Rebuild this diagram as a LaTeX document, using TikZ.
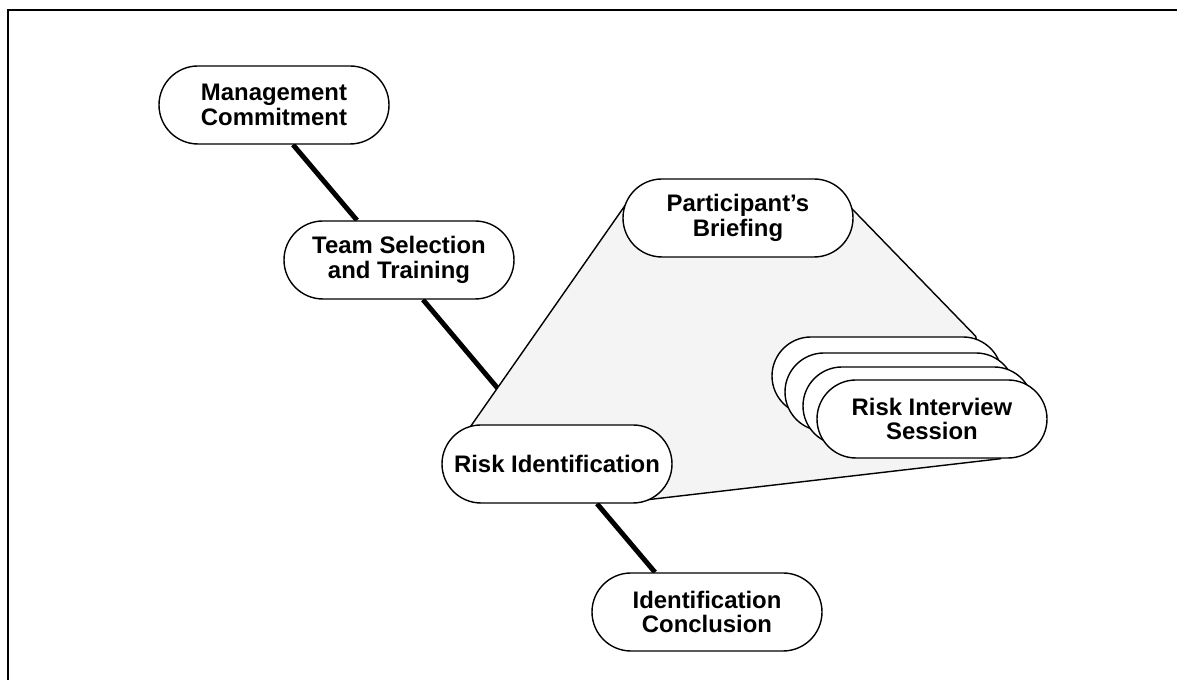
\documentclass[tikz,border=0pt]{standalone}
\usepackage{fontspec}
\setmainfont{Liberation Sans}
\usetikzlibrary{positioning, calc, backgrounds}
\definecolor{fanfill}{HTML}{F4F4F4}

\begin{document}
\begin{tikzpicture}[
  every node/.style={font=\fontsize{13.6}{13.8}\selectfont\bfseries},
  phase/.style={draw, line width=0.8pt, fill=white, rounded corners=0.78cm, minimum width=4.6cm, minimum height=1.56cm, inner sep=0pt, align=center},
  link/.style={line width=2.8pt}
]
\useasboundingbox (0,0) rectangle (23.54,13.6);

% Main chain of phases
\node[phase] (mgmt) at (5.48, 11.5) {Management\\Commitment};
\node[phase] (team) at (7.98, 8.4) {Team Selection\\and Training};
\node[phase] (riskid) at (11.14, 4.32) {Risk Identification};
\node[phase] (concl) at (14.14, 1.36) {Identification\\Conclusion};

% Expanded view of risk identification
\node[phase] (brief) at (14.76, 9.24) {Participant's\\Briefing};
\node[phase] (session1) at (17.74, 6.08) {};
\node[phase] (session2) at (18.0, 5.76) {};
\node[phase] (session3) at (18.36, 5.48) {};
\node[phase] (session) at (18.64, 5.22) {Risk Interview\\Session};

\begin{scope}[on background layer]
  % Frame
  \draw[line width=1.1pt] (0.16,0) |- (23.54,13.4);
  % Links between phases
  \draw[link] ([xshift=0.38cm]mgmt.south) -- ([xshift=-0.84cm]team.north);
  \draw[link] ([xshift=0.48cm]team.south) -- ([xshift=-0.58cm]riskid.north);
  \draw[link] ([xshift=0.8cm]riskid.south) -- ([xshift=-1.04cm]concl.north);
  % Shaded fan
  \draw[line width=0.8pt, line join=round, fill=fanfill]
    ([shift={(0.56,-0.08)}]riskid.north west) -- ([shift={(0.26,-0.25)}]brief.north west)
    -- ([shift={(-0.05,0.2)}]brief.east) -- ([xshift=-0.54cm]session1.north east)
    -- ([xshift=-0.94cm]session.south east) -- ([shift={(-0.5,0.08)}]riskid.south east) -- cycle;
\end{scope}

\end{tikzpicture}
\end{document}
